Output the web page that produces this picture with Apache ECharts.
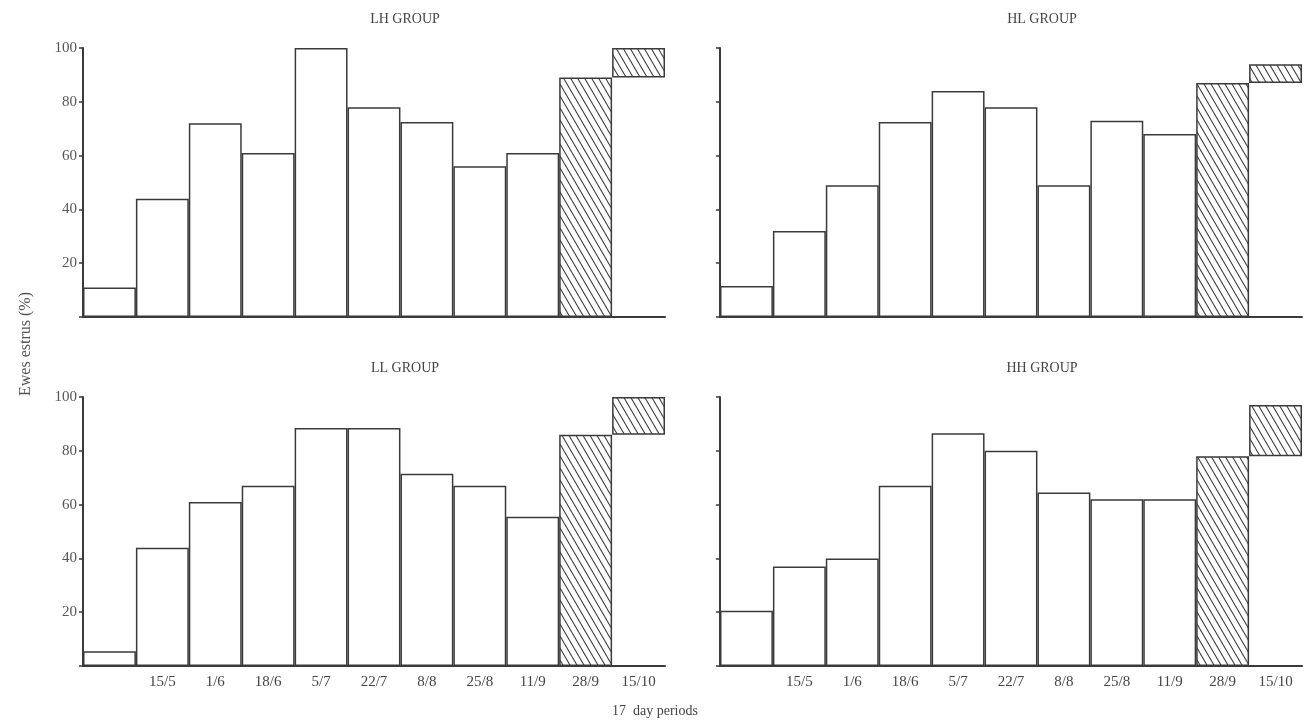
<!DOCTYPE html>
<html>
<head>
<meta charset="utf-8">
<script src="https://cdn.jsdelivr.net/npm/echarts@6/dist/echarts.min.js"></script>
<style>html,body{margin:0;padding:0;background:#fff;}#c{width:1311px;height:720px;}</style>
</head>
<body>
<div id="c"></div>
<script>
// ---- data ----
const periods = ['', '15/5', '1/6', '18/6', '5/7', '22/7', '8/8', '25/8', '11/9', '28/9', '15/10'];
const groupNames = ['LH GROUP', 'HL GROUP', 'LL GROUP', 'HH GROUP'];
const lhValues = [11, 44, 72, 61, 100, 78, 72.5, 56, 61, 89, 100];
const hlValues = [11.5, 32, 49, 72.5, 84, 78, 49, 73, 68, 87, 94];
const llValues = [5.5, 44, 61, 67, 88.5, 88.5, 71.5, 67, 55.5, 86, 100];
const hhValues = [20.5, 37, 40, 67, 86.5, 80, 64.5, 62, 62, 78, 97];
const yTicks = [0, 20, 40, 60, 80, 100];

// ---- hatch pattern ----
function makeHatch() {
  const w = 7, h = 12;
  const cv = document.createElement('canvas');
  cv.width = w; cv.height = h;
  const ctx = cv.getContext('2d');
  ctx.fillStyle = '#ffffff';
  ctx.fillRect(0, 0, w, h);
  ctx.strokeStyle = '#3a3a3a';
  ctx.lineWidth = 1.1;
  for (let k = -2; k <= 2; k++) {
    ctx.beginPath();
    ctx.moveTo(k * w - w, -h);
    ctx.lineTo(k * w + 2 * w, 2 * h);
    ctx.stroke();
  }
  return cv;
}
const hatch = { image: makeHatch(), repeat: 'repeat' };

const allValues = [lhValues, hlValues, llValues, hhValues];
const grids = [
  { left: 83, top: 48, width: 582, height: 269 },
  { left: 720, top: 48, width: 582, height: 269 },
  { left: 83, top: 397, width: 582, height: 269 },
  { left: 720, top: 397, width: 582, height: 269 }
];
const axisColor = '#3a3a3a';
const serif = 'Liberation Serif';

const xAxes = [], yAxes = [], series = [], titles = [];
grids.forEach((g, i) => {
  const bottomRow = i >= 2;
  xAxes.push({
    type: 'category', gridIndex: i, data: periods, boundaryGap: true,
    axisLine: { lineStyle: { color: axisColor, width: 2 } },
    axisTick: { show: false },
    axisLabel: { show: bottomRow, interval: 0, color: '#444', fontFamily: serif, fontSize: 15, margin: 9 }
  });
  yAxes.push({
    type: 'value', gridIndex: i, min: yTicks[0], max: yTicks[yTicks.length - 1], interval: 20,
    axisLine: { show: true, lineStyle: { color: axisColor, width: 2 } },
    axisTick: { show: true, length: 4, lineStyle: { color: axisColor, width: 1.5 } },
    splitLine: { show: false },
    axisLabel: { show: i % 2 === 0, color: '#555', fontFamily: serif, fontSize: 15, margin: 6,
      formatter: v => v === 0 ? '' : String(v) }
  });
  const vals = allValues[i];
  const n = vals.length;
  const plain = vals.map((v, k) => k < n - 2 ? v : '-');
  const hatched = vals.map((v, k) => k === n - 2 ? v : (k === n - 1 ? vals[n - 1] - vals[n - 2] : '-'));
  const base = vals.map((v, k) => k === n - 1 ? vals[n - 2] : '-');
  const common = { type: 'bar', xAxisIndex: i, yAxisIndex: i, barWidth: '100%', barCategoryGap: 0, animation: false, silent: true };
  series.push(Object.assign({}, common, {
    name: 'plain' + i, stack: 's' + i, data: plain,
    itemStyle: { color: '#ffffff', borderColor: axisColor, borderWidth: 1.5 }
  }));
  series.push(Object.assign({}, common, {
    name: 'base' + i, stack: 's' + i, data: base,
    itemStyle: { color: 'rgba(0,0,0,0)', borderWidth: 0 }
  }));
  series.push(Object.assign({}, common, {
    name: 'hatch' + i, stack: 's' + i, data: hatched,
    itemStyle: { color: hatch, borderColor: axisColor, borderWidth: 1.5 }
  }));
  titles.push({
    text: groupNames[i], left: g.left + g.width / 2 + 26, top: g.top - 41, textAlign: 'center',
    textStyle: { fontFamily: serif, fontSize: 14, fontWeight: 'normal', color: '#444' }
  });
});

const chart = echarts.init(document.getElementById('c'), null, { renderer: 'canvas' });
chart.setOption({
  backgroundColor: '#ffffff',
  animation: false,
  title: titles,
  grid: grids,
  xAxis: xAxes,
  yAxis: yAxes,
  series: series,
  graphic: [
    { type: 'text', left: 18, top: 292, rotation: Math.PI / 2,
      style: { text: 'Ewes estrus (%)', fontFamily: serif, fontSize: 16, fill: '#555' } },
    { type: 'text', left: 612, top: 704,
      style: { text: '17  day periods', fontFamily: serif, fontSize: 14, fill: '#444' } }
  ]
});
</script>
</body>
</html>
